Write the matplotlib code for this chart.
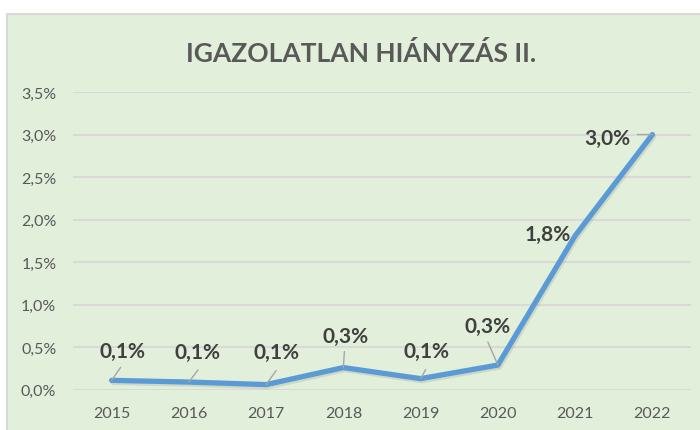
import matplotlib
matplotlib.use("Agg")
import matplotlib.pyplot as plt
from matplotlib.patches import Rectangle
from matplotlib.ticker import FuncFormatter, MultipleLocator
import matplotlib.patheffects as pe

years = ["2015", "2016", "2017", "2018", "2019", "2020", "2021", "2022"]
values = [0.11, 0.09, 0.06, 0.26, 0.13, 0.29, 1.81, 3.00]
labels = ["0,1%", "0,1%", "0,1%", "0,3%", "0,1%", "0,3%", "1,8%", "3,0%"]
title = "IGAZOLATLAN HIÁNYZÁS II."

# label offsets (pixels, from the point) and leader line end offsets
label_offsets = [(11, 29), (9, 30), (10, 33), (2, 32), (6, 28), (-10, 39), (-27, 2), (-45, -3)]
leader_ends = [(9, 13), (9, 12), (10, 14), (1, 16), (5, 9), (-10, 23), None, (-15, 0)]

W, H = 700, 431
fig = plt.figure(figsize=(W / 100, H / 100), dpi=100)
fig.patch.set_facecolor("white")
plt.rcParams["font.family"] = ["Lato", "DejaVu Sans"]

panel = Rectangle((7 / W, -0.05), 1.0, 1 - 15 / H + 0.05, transform=fig.transFigure,
                  facecolor="#E2EFDA", edgecolor="#D9D9D9", linewidth=1.5, zorder=-10)
fig.patches.append(panel)

ax = fig.add_axes([73 / W, (H - 390.7) / H, (691 - 73) / W, (390.7 - 93) / H])
ax.set_zorder(1)
ax.set_facecolor("none")
x = list(range(len(years)))
ax.plot(x, values, color="#5B9BD5", linewidth=3.8, solid_joinstyle="round",
        solid_capstyle="round", zorder=3,
        path_effects=[pe.SimpleLineShadow(offset=(1, -1.5), shadow_color="#7F7F7F", alpha=0.2),
                      pe.Normal()])
ax.set_xlim(-0.5, len(years) - 0.5)
ax.set_ylim(0, 3.5)
ax.yaxis.set_major_locator(MultipleLocator(0.5))
ax.yaxis.set_major_formatter(FuncFormatter(lambda v, p: f"{v:.1f}%".replace(".", ",")))
ax.set_xticks(x)
ax.set_xticklabels(years)
ax.grid(axis="y", color="#D9D9D9", linewidth=1.5, zorder=1)
ax.set_axisbelow(True)
for s in ax.spines.values():
    s.set_visible(False)
ax.tick_params(axis="both", length=0, labelcolor="#595959", labelsize=11.5)
ax.tick_params(axis="y", pad=12)
ax.tick_params(axis="x", pad=12)

for i, (v, lab) in enumerate(zip(values, labels)):
    dx, dy = label_offsets[i]
    ax.annotate(lab, (i, v), xytext=(dx, dy), textcoords="offset pixels",
                ha="center", va="center", fontsize=15, fontweight="bold",
                color="#404040", zorder=5)
    le = leader_ends[i]
    if le is not None:
        ax.annotate("", (i, v), xytext=le, textcoords="offset pixels",
                    arrowprops=dict(arrowstyle="-", color="#A6A6A6", lw=1.0,
                                    shrinkA=0, shrinkB=0), zorder=4)

fig.text(361 / W, 1 - 53 / H, title, ha="center", va="center", fontsize=19,
         fontweight="bold", color="#595959")

fig.savefig("out.png", dpi=100)
